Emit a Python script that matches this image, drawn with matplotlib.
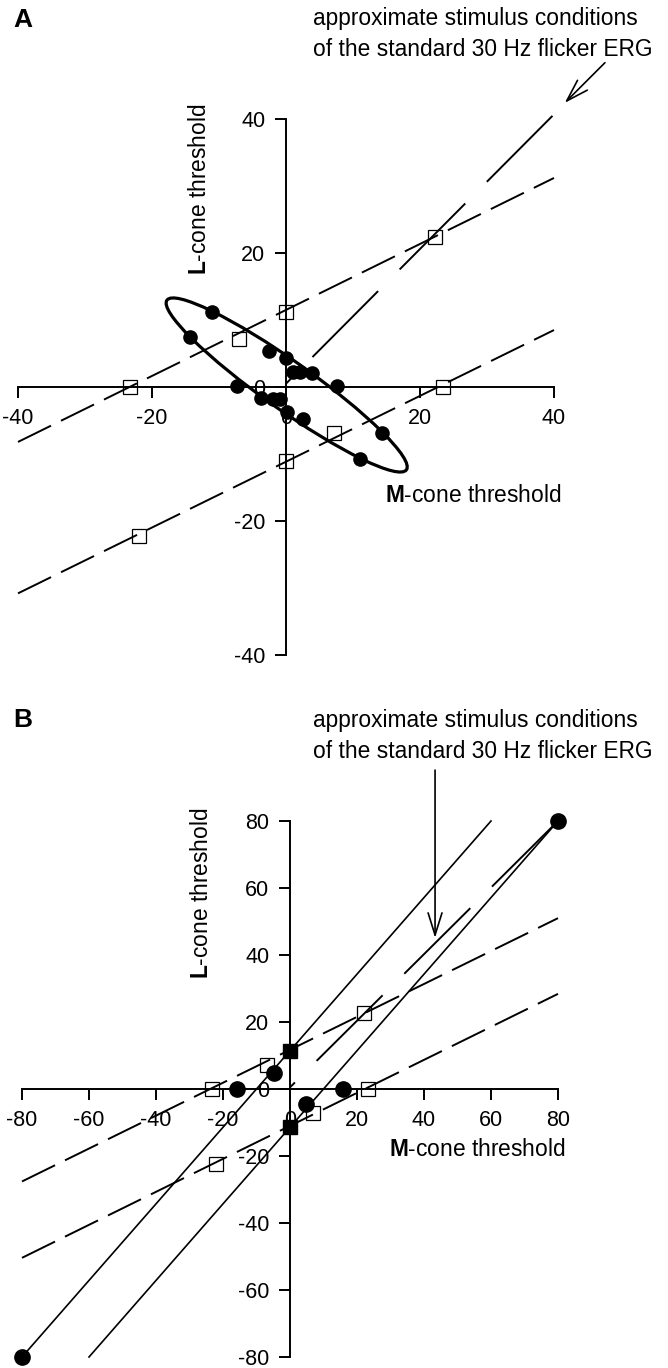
import numpy as np
import matplotlib
matplotlib.use('Agg')
import matplotlib.pyplot as plt
from matplotlib.patches import Ellipse

plt.rcParams['font.family'] = ['Liberation Sans', 'DejaVu Sans']
plt.rcParams['mathtext.fontset'] = 'custom'
plt.rcParams['mathtext.rm'] = 'Liberation Sans'
plt.rcParams['mathtext.bf'] = 'Liberation Sans:bold'
plt.rcParams['lines.scale_dashes'] = False

W, H, DPI = 668, 1368, 100

# ---------------- Panel A data ----------------
a_circ_x = [-11.1, -14.3, -2.5, 0.0, 1.0, 2.1, 3.9, 7.6, -7.3, -3.7, -2.0, -0.9, 0.1, 2.6, 14.4, 11.1]
a_circ_y = [11.2, 7.4, 5.3, 4.4, 2.3, 2.3, 2.1, 0.2, 0.1, -1.7, -1.8, -1.8, -3.8, -4.8, -6.9, -10.7]
a_sq_x = [0.0, -7.0, -23.3, 23.4, 7.1, 0.0, -22.0, 22.2]
a_sq_y = [11.2, 7.1, 0.0, 0.0, -6.9, -11.0, -22.2, 22.4]
a_dash_up_x = [-40, 40]
a_dash_up_y = [-8.2, 31.2]
a_dash_lo_x = [-40, 40]
a_dash_lo_y = [-30.8, 8.5]
a_diag_x = [0, 40]
a_diag_y = [0.5, 40.7]
a_ell_center = (0.1, 0.3)
a_ell_axes = (21.9, 3.6)
a_ell_angle = -35.3
a_ticks = [-40, -20, 0, 20, 40]
a_arrow_tail = (47.6, 48.4)
a_arrow_tip = (41.6, 42.4)

# ---------------- Panel B data ----------------
b_circ_x = [-80, 80, -15.8, 15.8, -4.8, 4.8]
b_circ_y = [-80, 80, 0.0, 0.0, 4.8, -4.5]
b_fsq_x = [0.0, 0.0]
b_fsq_y = [11.3, -11.3]
b_sq_x = [-23.3, 23.3, 22.1, -22.1, -7.0, 7.0]
b_sq_y = [0.0, 0.0, 22.7, -22.4, 7.2, -7.2]
b_sol1_x = [-80, 60]
b_sol1_y = [-80, 80]
b_sol2_x = [-60, 80]
b_sol2_y = [-80, 80]
b_dash_up_x = [-80, 80]
b_dash_up_y = [-27.6, 51.0]
b_dash_lo_x = [-80, 80]
b_dash_lo_y = [-50.4, 28.4]
b_diag_x = [0, 80]
b_diag_y = [0.5, 80]
b_ticks = [-80, -60, -40, -20, 0, 20, 40, 60, 80]
b_arrow_tail = (43.3, 95.2)
b_arrow_tip = (43.3, 45.1)

fig = plt.figure(figsize=(W / DPI, H / DPI), dpi=DPI)
fig.patch.set_facecolor('white')

FS = 16.4


def make_axes(rect, origin, scale, bound, ticks):
    x0, y0, x1, y1 = rect
    ax = fig.add_axes([x0 / W, 1 - y1 / H, (x1 - x0) / W, (y1 - y0) / H])
    ox, oy = origin
    ax.set_xlim((x0 - ox) / scale, (x1 - ox) / scale)
    ax.set_ylim((oy - y1) / scale, (oy - y0) / scale)
    ax.patch.set_alpha(0)
    for s in ['top', 'right']:
        ax.spines[s].set_visible(False)
    ax.spines['left'].set_position(('data', 0))
    ax.spines['bottom'].set_position(('data', 0))
    ax.spines['left'].set_bounds(-bound, bound)
    ax.spines['bottom'].set_bounds(-bound, bound)
    for s in ['left', 'bottom']:
        ax.spines[s].set_linewidth(1.4)
    ax.set_xticks(ticks)
    ax.set_yticks(ticks)
    ax.set_xticklabels([str(t) for t in ticks])
    ax.set_yticklabels([str(t) for t in ticks])
    ax.tick_params(direction='out', length=8, width=1.4, labelsize=15.5, pad=7)
    return ax


DASH = (0, (26.5, 8))
LDASH = (62, (67, 22))

# ---------- Panel A ----------
axA = make_axes((0, 0, 668, 684), (286, 387), 6.7, 40, a_ticks)
axA.plot(a_dash_up_x, a_dash_up_y, color='black', lw=1.4, ls=DASH, clip_on=False)
axA.plot(a_dash_lo_x, a_dash_lo_y, color='black', lw=1.4, ls=DASH, clip_on=False)
axA.plot(a_diag_x, a_diag_y, color='black', lw=1.4, ls=LDASH, clip_on=False)
axA.add_patch(Ellipse(a_ell_center, 2 * a_ell_axes[0], 2 * a_ell_axes[1], angle=a_ell_angle,
                      fill=False, lw=2.3, color='black'))
axA.plot(a_circ_x, a_circ_y, 'o', color='black', ms=9.5, zorder=5)
axA.plot(a_sq_x, a_sq_y, 's', mfc='none', mec='black', mew=0.9, ms=10, zorder=5)
axA.annotate('', xy=a_arrow_tip, xytext=a_arrow_tail, annotation_clip=False,
             arrowprops=dict(arrowstyle='->,head_length=0.8,head_width=0.25',
                             lw=1.2, color='black', mutation_scale=20,
                             shrinkA=0, shrinkB=0))

# ---------- Panel B ----------
axB = make_axes((0, 684, 668, 1368), (290, 1089), 3.35, 80, b_ticks)
axB.plot(b_dash_up_x, b_dash_up_y, color='black', lw=1.4, ls=DASH, clip_on=False)
axB.plot(b_dash_lo_x, b_dash_lo_y, color='black', lw=1.4, ls=DASH, clip_on=False)
axB.plot(b_diag_x, b_diag_y, color='black', lw=1.4, ls=LDASH, clip_on=False)
axB.plot(b_sol1_x, b_sol1_y, color='black', lw=1.2, clip_on=False)
axB.plot(b_sol2_x, b_sol2_y, color='black', lw=1.2, clip_on=False)
axB.plot(b_circ_x, b_circ_y, 'o', color='black', ms=11, zorder=5, clip_on=False)
axB.plot(b_fsq_x, b_fsq_y, 's', color='black', ms=10.5, zorder=5)
axB.plot(b_sq_x, b_sq_y, 's', mfc='none', mec='black', mew=0.9, ms=10, zorder=5)
axB.annotate('', xy=b_arrow_tip, xytext=b_arrow_tail, annotation_clip=False,
             arrowprops=dict(arrowstyle='->,head_length=0.8,head_width=0.25',
                             lw=1.2, color='black', mutation_scale=20,
                             shrinkA=0, shrinkB=0))


def ftext(px, py, s, **kw):
    fig.text(px / W, 1 - py / H, s, **kw)


# Panel letters and captions
ftext(23, 20, 'A', fontsize=19, fontweight='bold', ha='center', va='center')
ftext(23, 720, 'B', fontsize=19, fontweight='bold', ha='center', va='center')
for y1, y2 in [(18, 50), (720, 752)]:
    ftext(313, y1, 'approximate stimulus conditions', fontsize=FS, ha='left', va='center')
    ftext(313, y2, 'of the standard 30 Hz flicker ERG', fontsize=FS, ha='left', va='center')

# axis labels
ftext(200, 189, r'$\mathbf{L}$-cone threshold', fontsize=FS, rotation=90, ha='center', va='center')
ftext(473, 495, r'$\mathbf{M}$-cone threshold', fontsize=FS, ha='center', va='center')
ftext(201, 893, r'$\mathbf{L}$-cone threshold', fontsize=FS, rotation=90, ha='center', va='center')
ftext(477, 1150, r'$\mathbf{M}$-cone threshold', fontsize=FS, ha='center', va='center')

fig.savefig('out.png', dpi=DPI, facecolor='white')
